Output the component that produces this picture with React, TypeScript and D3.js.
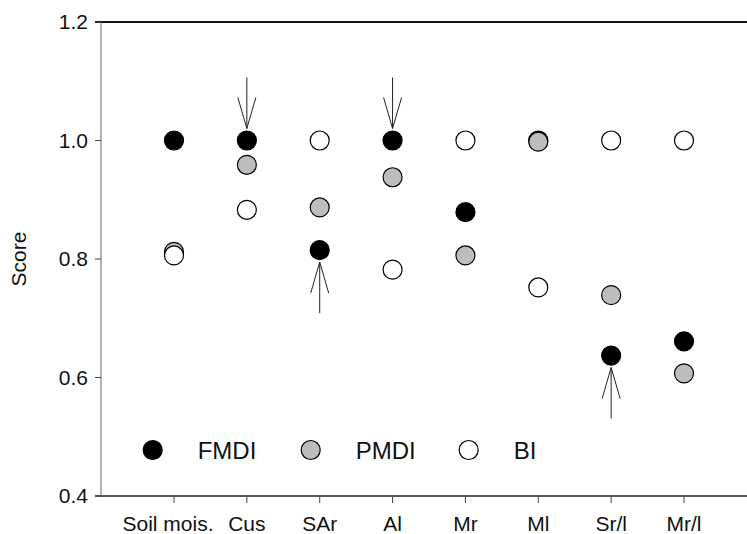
import React from "react";
import * as d3 from "d3";

const categories = ["Soil mois.", "Cus", "SAr", "Al", "Mr", "Ml", "Sr/l", "Mr/l"];
const fmdi = [1.0, 1.0, 0.815, 1.0, 0.879, 1.0, 0.637, 0.661];
const pmdi = [0.812, 0.959, 0.887, 0.938, 0.806, 0.998, 0.739, 0.607];
const bi = [0.806, 0.883, 1.0, 0.782, 1.0, 0.752, 1.0, 1.0];
const yTicks = [0.4, 0.6, 0.8, 1.0, 1.2];

// arrows pointing at FMDI points
const arrows = [
  { cat: "Cus", dir: "down" },
  { cat: "SAr", dir: "up" },
  { cat: "Al", dir: "down" },
  { cat: "Sr/l", dir: "up" },
];

const series = [
  { name: "FMDI", values: fmdi, fill: "#000000" },
  { name: "PMDI", values: pmdi, fill: "#bdbdbd" },
  { name: "BI", values: bi, fill: "#ffffff" },
];

const W = 747;
const H = 534;
const left = 101;
const top = 22;
const bottom = 496;
const font = "Arial, 'Liberation Sans', Helvetica, sans-serif";

export default function App() {
  const x = d3.scalePoint<string>().domain(categories).range([174, 684]);
  const y = d3.scaleLinear().domain([0.4, 1.2]).range([bottom, top]);
  const r = 9.5;

  return (
    <svg width={W} height={H} style={{ position: "absolute", left: 0, top: 0, background: "#fff" }}>
      {/* frame */}
      <line x1={95} x2={W} y1={top} y2={top} stroke="#111" strokeWidth={2} />
      <line x1={95} x2={W} y1={bottom} y2={bottom} stroke="#222" strokeWidth={1.5} />
      <line x1={left} x2={left} y1={top} y2={bottom} stroke="#666" strokeWidth={1} />

      {/* y axis */}
      {yTicks.map((t) => (
        <g key={t}>
          <line x1={95} x2={left} y1={y(t)} y2={y(t)} stroke="#444" />
          <text x={88} y={y(t)} dy="0.35em" textAnchor="end" fontFamily={font} fontSize={21} fill="#111">
            {d3.format(".1f")(t)}
          </text>
        </g>
      ))}
      <text
        transform={`translate(26,${(top + bottom) / 2}) rotate(-90)`}
        textAnchor="middle"
        fontFamily={font}
        fontSize={21}
        fill="#111"
      >
        Score
      </text>

      {/* x axis */}
      {categories.map((c) => (
        <g key={c}>
          <line x1={x(c)} x2={x(c)} y1={bottom} y2={bottom + 7} stroke="#444" />
          <text x={x(c)! - (c === "Soil mois." ? 6 : 0)} y={531} textAnchor="middle" fontFamily={font} fontSize={21} fill="#111">
            {c}
          </text>
        </g>
      ))}

      {/* points */}
      {series.map((s) =>
        s.values.map((v, i) => (
          <circle key={s.name + i} cx={x(categories[i])} cy={y(v)} r={r} fill={s.fill} stroke="#000" strokeWidth={1.2} />
        ))
      )}

      {/* arrows */}
      {arrows.map((a) => {
        const i = categories.indexOf(a.cat);
        const cx = x(a.cat)!;
        const cy = y(fmdi[i]);
        const s = a.dir === "down" ? -1 : 1;
        const tip = cy + s * 12;
        const end = tip + s * 51;
        const barb = tip + s * 31;
        return (
          <g key={a.cat} stroke="#222" strokeWidth={1} fill="none">
            <line x1={cx} x2={cx} y1={tip} y2={end} />
            <polyline points={`${cx - 9},${barb} ${cx},${tip} ${cx + 9},${barb}`} />
          </g>
        );
      })}

      {/* legend */}
      {series.map((s, i) => (
        <g key={s.name} transform={`translate(${152.7 + i * 158},450)`}>
          <circle r={r} fill={s.fill} stroke="#000" strokeWidth={1.2} />
          <text x={45} dy="0.36em" fontFamily={font} fontSize={24} fill="#111">
            {s.name}
          </text>
        </g>
      ))}
    </svg>
  );
}
